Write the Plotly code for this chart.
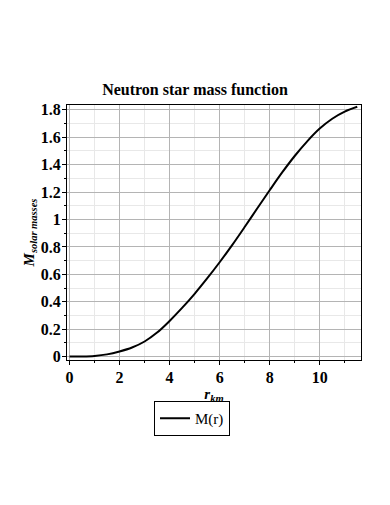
import plotly.graph_objects as go

r_km = [0, 0.5, 1, 1.5, 2, 2.5, 3, 3.5, 4, 4.5, 5, 5.5, 6, 6.5, 7, 7.5, 8, 8.5, 9, 9.5, 10, 10.5, 11, 11.5]
mass = [0, 0.001, 0.005, 0.016, 0.037, 0.066, 0.110, 0.175, 0.260, 0.355, 0.458, 0.570, 0.688,
        0.813, 0.945, 1.080, 1.213, 1.343, 1.463, 1.570, 1.663, 1.735, 1.787, 1.822]
x_ticks = [0, 2, 4, 6, 8, 10]
y_ticks = [0, 0.2, 0.4, 0.6, 0.8, 1, 1.2, 1.4, 1.6, 1.8]
y_tick_labels = ["0", "0.2", "0.4", "0.6", "0.8", "1", "1.2", "1.4", "1.6", "1.8"]

FONT = "Liberation Serif"

fig = go.Figure()
fig.add_trace(go.Scatter(x=r_km, y=mass, mode="lines", name="M(r)",
                         line=dict(color="black", width=2, shape="spline", smoothing=1)))

axis_common = dict(
    showline=True, linecolor="black", linewidth=1, mirror=True,
    ticks="outside", ticklen=4, tickcolor="black",
    showgrid=True, gridcolor="#b4b4b4", gridwidth=1, zeroline=False,
    automargin=False,
    tickfont=dict(family=FONT, size=16, color="black", weight="bold"),
)

fig.update_layout(
    width=390, height=505,
    margin=dict(l=67, r=29, t=105, b=145, autoexpand=False),
    paper_bgcolor="white", plot_bgcolor="white",
    title=dict(text="<b>Neutron star mass function</b>", x=0.5, xanchor="center",
               y=1 - 89 / 505, yanchor="middle",
               font=dict(family=FONT, size=16, color="black")),
    xaxis=dict(range=[-0.1, 11.65], tickvals=x_ticks, ticklabelstandoff=-1,
               minor=dict(dtick=1, tick0=0, ticks="outside", ticklen=2, tickcolor="black",
                          showgrid=True, gridcolor="#e8e8e8"),
               title=dict(text="<b><i>r</i><sub><i>km</i></sub></b>", standoff=1,
                          font=dict(family=FONT, size=15, color="black")),
               **axis_common),
    yaxis=dict(range=[-0.025, 1.835], tickvals=y_ticks, ticktext=y_tick_labels,
               ticklabelstandoff=-2,
               minor=dict(dtick=0.1, tick0=0, ticks="outside", ticklen=2, tickcolor="black",
                          showgrid=True, gridcolor="#e8e8e8"),
               title=dict(text="<b><i>M</i><sub><i>solar masses</i></sub></b>", standoff=2,
                          font=dict(family=FONT, size=15, color="black")),
               **axis_common),
    showlegend=True,
    legend=dict(x=(154 - 67) / 294, y=(360 - 401) / 255, xanchor="left", yanchor="top",
                bordercolor="black", borderwidth=1, bgcolor="white",
                font=dict(family=FONT, size=15, color="black"),
                itemwidth=30, tracegroupgap=0),
)

fig.write_html("out.html", config={"displayModeBar": False},
               post_script="document.body.style.margin='0';")
